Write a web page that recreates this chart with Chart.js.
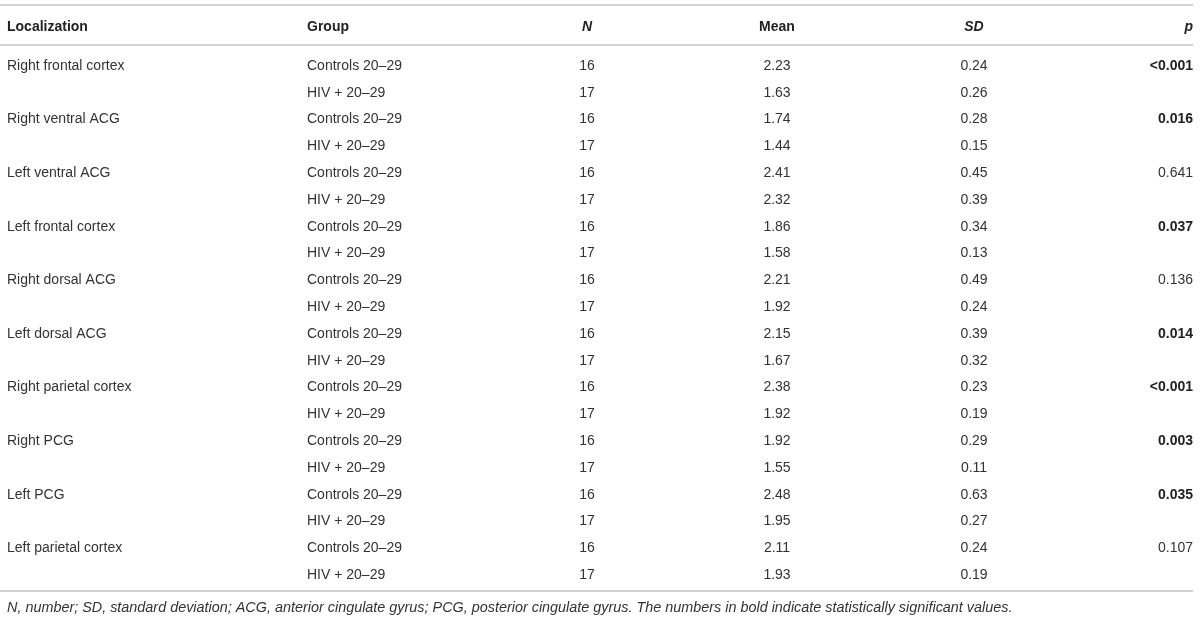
<!DOCTYPE html>
<html>
<head>
<meta charset="utf-8">
<script src="https://cdn.jsdelivr.net/npm/chart.js@4.4.1/dist/chart.umd.min.js"></script>
<style>
  html, body { margin: 0; padding: 0; background: #fff; }
  #wrap { width: 1200px; height: 624px; position: relative; }
</style>
</head>
<body>
<div id="wrap"><canvas id="table_chart"></canvas></div>
<script>

// table content
var headers = ["Localization", "Group", "N", "Mean", "SD", "p"];
var regions = ["Right frontal cortex", "Right ventral ACG", "Left ventral ACG", "Left frontal cortex",
  "Right dorsal ACG", "Left dorsal ACG", "Right parietal cortex", "Right PCG", "Left PCG", "Left parietal cortex"];
var groups = ["Controls 20\u201329", "HIV + 20\u201329"];
var nValues = [16, 17];
var meanValues = [2.23, 1.63, 1.74, 1.44, 2.41, 2.32, 1.86, 1.58, 2.21, 1.92,
  2.15, 1.67, 2.38, 1.92, 1.92, 1.55, 2.48, 1.95, 2.11, 1.93];
var sdValues = [0.24, 0.26, 0.28, 0.15, 0.45, 0.39, 0.34, 0.13, 0.49, 0.24,
  0.39, 0.32, 0.23, 0.19, 0.29, 0.11, 0.63, 0.27, 0.24, 0.19];
var pValues = ["<0.001", "0.016", "0.641", "0.037", "0.136", "0.014", "<0.001", "0.003", "0.035", "0.107"];
var pBold = [true, true, false, true, false, true, true, true, true, false];
var footnote = "N, number; SD, standard deviation; ACG, anterior cingulate gyrus; PCG, posterior cingulate gyrus. The numbers in bold indicate statistically significant values.";

var FONT = "'Liberation Sans', Arial, Helvetica, sans-serif";

// column anchors (x scale units) and how the text sits on them
var columns = [
  { x: 7, align: "left" },
  { x: 307, align: "left" },
  { x: 587, align: "center" },
  { x: 777, align: "center" },
  { x: 974, align: "center" },
  { x: 1193, align: "right" }
];

var tablePlugin = {
  id: 'tablePlugin',
  afterDraw: function(chart) {
    var ctx = chart.ctx;
    var xs = chart.scales.x;
    var ys = chart.scales.y;

    function hline(v) {
      ctx.save();
      ctx.strokeStyle = "#d3d3d3";
      ctx.lineWidth = 2;
      ctx.beginPath();
      ctx.moveTo(xs.getPixelForValue(0), ys.getPixelForValue(v));
      ctx.lineTo(xs.getPixelForValue(1193), ys.getPixelForValue(v));
      ctx.stroke();
      ctx.restore();
    }

    function cell(text, col, row, font, color) {
      ctx.save();
      ctx.font = font;
      ctx.fillStyle = color;
      ctx.textAlign = columns[col].align;
      ctx.textBaseline = "middle";
      ctx.fillText(text, xs.getPixelForValue(columns[col].x), ys.getPixelForValue(row) + 1);
      ctx.restore();
    }

    hline(-2.24);
    hline(-0.75);
    hline(19.63);

    // header
    headers.forEach(function(h, i) {
      var italic = (h == "N" || h == "SD" || h == "p");
      cell(h, i, -1.44, (italic ? "italic " : "") + "bold 14px " + FONT, "#222");
    });

    // body
    for (var r = 0; r < meanValues.length; r++) {
      var region = Math.floor(r / 2);
      var g = r % 2;
      if (g == 0) {
        cell(regions[region], 0, r, "14px " + FONT, "#333");
        cell(pValues[region], 5, r, (pBold[region] ? "bold " : "") + "14px " + FONT, pBold[region] ? "#222" : "#333");
      }
      cell(groups[g], 1, r, "14px " + FONT, "#333");
      cell(String(nValues[g]), 2, r, "14px " + FONT, "#333");
      cell(meanValues[r].toFixed(2), 3, r, "14px " + FONT, "#333");
      cell(sdValues[r].toFixed(2), 4, r, "14px " + FONT, "#333");
    }

    cell(footnote, 0, 20.22, "italic 14.4px " + FONT, "#333");
  }
};

var ctx = document.getElementById("table_chart");
var table_chart = new Chart(ctx, {
  type: 'scatter',
  data: { datasets: [] },
  options: {
    responsive: true,
    maintainAspectRatio: false,
    animation: false,
    layout: { padding: 0 },
    plugins: { legend: { display: false }, tooltip: { enabled: false } },
    scales: {
      x: { type: 'linear', min: 0, max: 1200, display: false },
      y: { type: 'linear', min: -2.4254, max: 20.858, reverse: true, display: false }
    }
  },
  plugins: [tablePlugin]
});
</script>
</body>
</html>
